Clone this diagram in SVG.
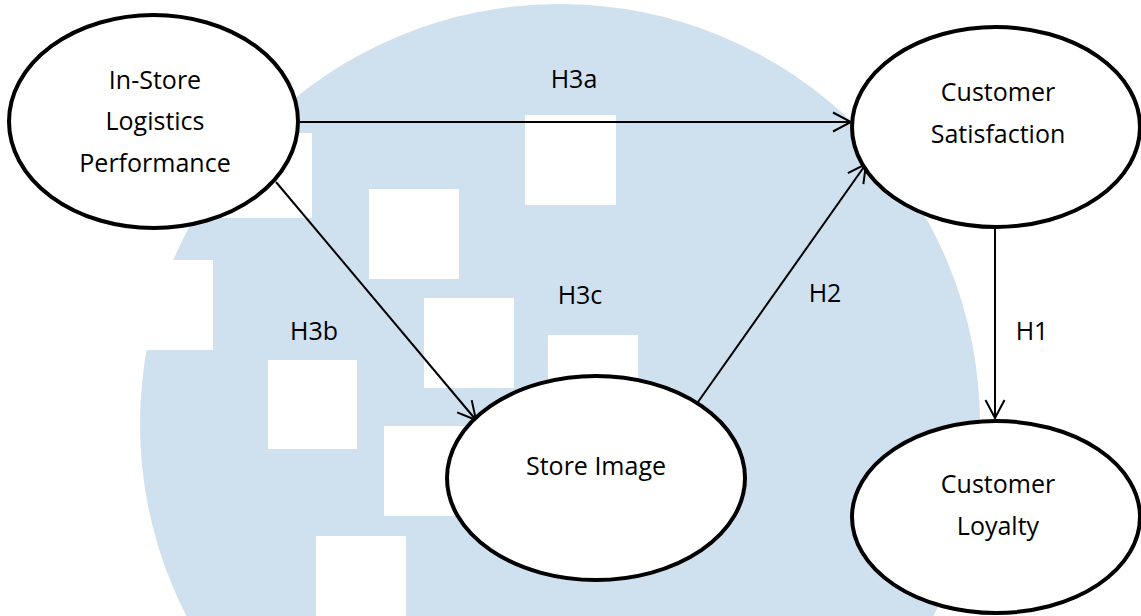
<svg xmlns="http://www.w3.org/2000/svg" width="1141" height="616" viewBox="0 0 1141 616">
  <style>
    .bg { fill: #cfe0ef; }
    .sq { fill: #ffffff; }
    .node { fill: #ffffff; stroke: #000000; stroke-width: 4; }
    .lbl { font-family: "Open Sans", "Noto Sans", sans-serif; font-size: 25px; fill: #000000; text-anchor: middle; dominant-baseline: central; }
    .edge { stroke: #000000; stroke-width: 2; fill: none; marker-end: url(#arrow); }
  </style>
  <defs>
    <marker id="arrow" markerUnits="userSpaceOnUse" markerWidth="24" markerHeight="24" viewBox="-22 -12 24 24" refX="0" refY="0" orient="auto">
      <path d="M -18 -9.5 L 0 0 L -18 9.5" fill="none" stroke="#000000" stroke-width="2"/>
    </marker>
  </defs>
  <rect width="1141" height="616" fill="#ffffff"/>
  <g id="watermark">
    <circle class="bg" cx="560" cy="424" r="420"/>
    <rect class="sq" x="0" y="260" width="213" height="90"/>
    <rect class="sq" x="222" y="133" width="90" height="85"/>
    <rect class="sq" x="525" y="115" width="91" height="90"/>
    <rect class="sq" x="369" y="189" width="90" height="90"/>
    <rect class="sq" x="424" y="298" width="90" height="90"/>
    <rect class="sq" x="548" y="335" width="90" height="90"/>
    <rect class="sq" x="268" y="360" width="89" height="89"/>
    <rect class="sq" x="384" y="426" width="90" height="90"/>
    <rect class="sq" x="316" y="536" width="90" height="90"/>
  </g>
  <g id="connectors">
    <line class="edge" x1="298" y1="122" x2="851" y2="122"/>
    <line class="edge" x1="276" y1="182" x2="476" y2="420"/>
    <line class="edge" x1="698" y1="402" x2="866" y2="164"/>
    <line class="edge" x1="995" y1="229" x2="995" y2="418"/>
    <text class="lbl" x="574" y="78">H3a</text>
    <text class="lbl" x="314" y="330">H3b</text>
    <text class="lbl" x="580" y="294">H3c</text>
    <text class="lbl" x="825" y="292">H2</text>
    <text class="lbl" x="1032" y="330">H1</text>
  </g>
  <g id="node-logistics">
    <ellipse class="node" cx="153.5" cy="121.5" rx="144.5" ry="106.5"/>
    <text class="lbl" x="155" y="79">In-Store</text>
    <text class="lbl" x="155" y="120">Logistics</text>
    <text class="lbl" x="155" y="162">Performance</text>
  </g>
  <g id="node-satisfaction">
    <ellipse class="node" cx="996" cy="127" rx="144" ry="100"/>
    <text class="lbl" x="998" y="91">Customer</text>
    <text class="lbl" x="998" y="133">Satisfaction</text>
  </g>
  <g id="node-store-image">
    <ellipse class="node" cx="596" cy="478" rx="149" ry="102"/>
    <text class="lbl" x="596" y="465">Store Image</text>
  </g>
  <g id="node-loyalty">
    <ellipse class="node" cx="996" cy="517" rx="144" ry="96"/>
    <text class="lbl" x="998" y="483">Customer</text>
    <text class="lbl" x="998" y="525">Loyalty</text>
  </g>
</svg>
